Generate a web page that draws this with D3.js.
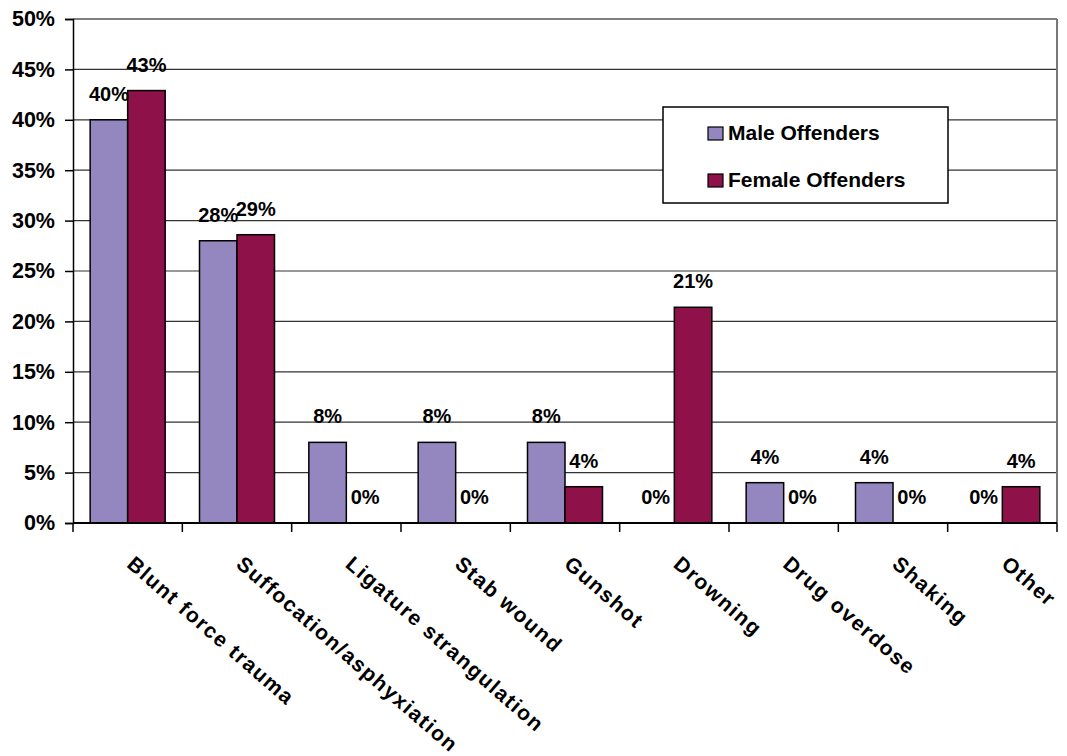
<!DOCTYPE html>
<html>
<head>
<meta charset="utf-8">
<script src="https://cdn.jsdelivr.net/npm/d3@7"></script>
<style>
  html, body { margin: 0; padding: 0; background: #fff; }
  svg { display: block; font-family: 'Liberation Sans', Arial, sans-serif; }
</style>
</head>
<body>
<div id="chart"></div>
<script>
const categories = ['Blunt force trauma', 'Suffocation/asphyxiation', 'Ligature strangulation',
  'Stab wound', 'Gunshot', 'Drowning', 'Drug overdose', 'Shaking', 'Other'];
const seriesNames = ['Male Offenders', 'Female Offenders'];
const maleValues = [40, 28, 8, 8, 8, 0, 4, 4, 0];
const femaleValues = [42.9, 28.6, 0, 0, 3.6, 21.4, 0, 0, 3.6];
const yTicks = [0, 5, 10, 15, 20, 25, 30, 35, 40, 45, 50];

const colors = ['#9486be', '#8e1149'];

const width = 1067, height = 756;
const margin = { top: 19, right: 10, bottom: 233, left: 73 };
const innerW = width - margin.left - margin.right;
const innerH = height - margin.top - margin.bottom;

const svg = d3.select('#chart')
  .append('svg')
  .attr('width', width)
  .attr('height', height);

const g = svg.append('g')
  .attr('transform', `translate(${margin.left},${margin.top})`);

// scales
const x = d3.scaleBand()
  .domain(categories)
  .range([0, innerW])
  .paddingInner(0.314)
  .paddingOuter(0.157);

const xs = d3.scaleBand()
  .domain(seriesNames)
  .range([0, x.bandwidth()]);

const y = d3.scaleLinear()
  .domain([0, 50])
  .range([innerH, 0]);

// gridlines
g.append('g')
  .selectAll('line')
  .data(yTicks.filter(t => t > 0))
  .join('line')
  .attr('x1', 0)
  .attr('x2', innerW)
  .attr('y1', d => y(d))
  .attr('y2', d => y(d))
  .attr('stroke', d => d === 50 ? '#000' : '#333')
  .attr('stroke-width', 1.2);

// right border
g.append('line')
  .attr('x1', innerW).attr('x2', innerW)
  .attr('y1', 0).attr('y2', innerH)
  .attr('stroke', '#777')
  .attr('stroke-width', 2);

// y axis
const yAxis = g.append('g')
  .call(d3.axisLeft(y).tickValues(yTicks).tickSize(8).tickPadding(10).tickFormat(d => d + '%'));
yAxis.select('.domain').attr('stroke', '#000').attr('stroke-width', 1.5);
yAxis.selectAll('.tick line').attr('stroke', '#000').attr('stroke-width', 1.5);
yAxis.selectAll('.tick text')
  .attr('fill', '#000')
  .style('font-size', '21.5px')
  .style('font-weight', 'bold')
  .style('font-family', "'Liberation Sans', Arial, sans-serif");

// bars
const data = categories.map((c, i) => ({
  category: c,
  values: [
    { series: seriesNames[0], value: maleValues[i] },
    { series: seriesNames[1], value: femaleValues[i] }
  ]
}));

const groups = g.append('g')
  .selectAll('g')
  .data(data)
  .join('g')
  .attr('transform', d => `translate(${x(d.category)},0)`);

groups.selectAll('rect')
  .data(d => d.values.filter(v => v.value > 0))
  .join('rect')
  .attr('x', d => xs(d.series))
  .attr('width', xs.bandwidth())
  .attr('y', d => y(d.value))
  .attr('height', d => innerH - y(d.value))
  .attr('fill', d => colors[seriesNames.indexOf(d.series)])
  .attr('stroke', '#000')
  .attr('stroke-width', 1.5);

// value labels
groups.selectAll('text')
  .data(d => d.values)
  .join('text')
  .attr('x', d => xs(d.series) + xs.bandwidth() / 2)
  .attr('y', d => y(d.value) - 19)
  .attr('text-anchor', 'middle')
  .style('font-size', '20px')
  .style('font-weight', 'bold')
  .text(d => Math.round(d.value) + '%');

// x axis line and ticks
g.append('line')
  .attr('x1', 0).attr('x2', innerW)
  .attr('y1', innerH).attr('y2', innerH)
  .attr('stroke', '#000')
  .attr('stroke-width', 2);

const step = x.step();
g.append('g')
  .selectAll('line')
  .data(d3.range(categories.length + 1))
  .join('line')
  .attr('x1', d => d * step)
  .attr('x2', d => d * step)
  .attr('y1', innerH)
  .attr('y2', innerH + 9)
  .attr('stroke', '#000')
  .attr('stroke-width', 1.5);

// category labels, slanted
g.append('g')
  .selectAll('text')
  .data(categories)
  .join('text')
  .attr('transform', d => `translate(${x(d) + x.bandwidth() / 2 - 2},${innerH + 43}) rotate(41)`)
  .attr('text-anchor', 'start')
  .style('font-size', '21px')
  .style('letter-spacing', '1.5px')
  .style('font-weight', 'bold')
  .text(d => d);

// legend
const legend = svg.append('g')
  .attr('transform', 'translate(663,107)');

legend.append('rect')
  .attr('width', 285)
  .attr('height', 96)
  .attr('fill', '#fff')
  .attr('stroke', '#000')
  .attr('stroke-width', 1.5);

const items = legend.selectAll('g')
  .data(seriesNames)
  .join('g')
  .attr('transform', (d, i) => `translate(45,${20 + i * 47})`);

items.append('rect')
  .attr('width', 15)
  .attr('height', 13)
  .attr('fill', (d, i) => colors[i])
  .attr('stroke', '#000')
  .attr('stroke-width', 1.2);

items.append('text')
  .attr('x', 20)
  .attr('y', 13)
  .style('font-size', '21px')
  .style('font-weight', 'bold')
  .text(d => d);
</script>
</body>
</html>
